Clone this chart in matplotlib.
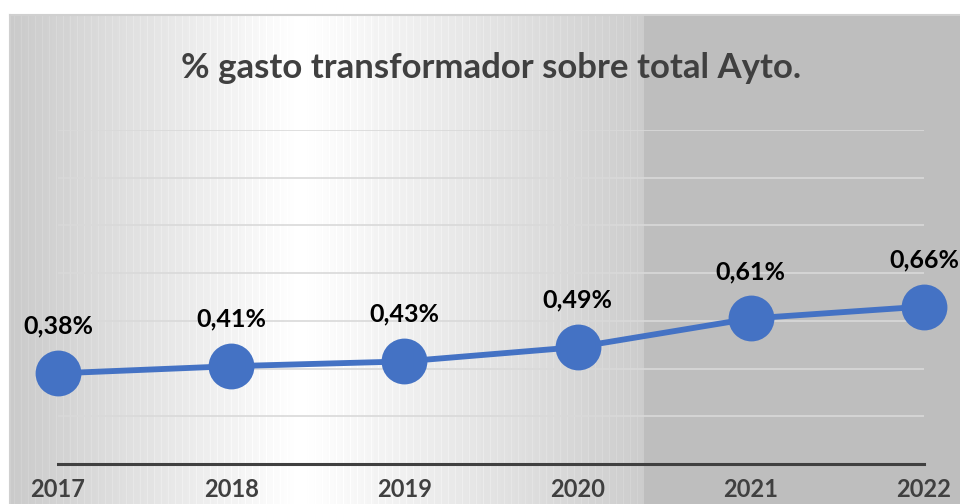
import numpy as np
import matplotlib
matplotlib.use("Agg")
import matplotlib.pyplot as plt

# chart data
years = [2017, 2018, 2019, 2020, 2021, 2022]
share = [0.38, 0.41, 0.43, 0.49, 0.61, 0.66]  # % of total council spending
labels = ["0,38%", "0,41%", "0,43%", "0,49%", "0,61%", "0,66%"]
title = "% gasto transformador sobre total Ayto."

plt.rcParams['font.family'] = ['Lato', 'DejaVu Sans']

W, H, DPI = 960, 504, 100
fig = plt.figure(figsize=(W / DPI, H / DPI), dpi=DPI)
fig.patch.set_facecolor('white')

# background panel with horizontal grey-white-grey gradient
bg = fig.add_axes([10 / W, 0, 1 - 10 / W, (H - 15) / H])
xs = np.arange(10, W)
stops_x = [10, 300, 643, 644, W]
stops_v = [0.79, 1.0, 0.80, 0.745, 0.745]
row = np.interp(xs, stops_x, stops_v)
# faint vertical streak texture on the gradient part
streak = np.where((xs % 7 == 0) & (xs < 643), 0.025, 0.0)
row = np.clip(row + streak, 0, 1)
img = np.tile(row, (2, 1))
bg.imshow(img, cmap='gray', vmin=0, vmax=1, aspect='auto', interpolation='nearest')
bg.set_xticks([])
bg.set_yticks([])
for s in ['right', 'bottom']:
    bg.spines[s].set_visible(False)
for s in ['top', 'left']:
    bg.spines[s].set_color('#d0d0d0')
    bg.spines[s].set_linewidth(1.5)

# plot area
ax = fig.add_axes([58 / W, 40 / H, (924 - 58) / W, (464 - 130) / H])
ax.patch.set_alpha(0)
ax.set_xlim(years[0], years[-1])
ax.set_ylim(0, 1.4)
ax.set_yticks(np.arange(0.2, 1.41, 0.2))
ax.yaxis.grid(True, color='#d9d9d9', linewidth=1.2)
ax.set_axisbelow(True)
ax.tick_params(axis='y', left=False, labelleft=False)
for s in ['top', 'right', 'left']:
    ax.spines[s].set_visible(False)
ax.spines['bottom'].set_color('#404040')
ax.spines['bottom'].set_linewidth(2.2)

ax.set_xticks(years)
ax.set_xticklabels([str(y) for y in years], fontsize=17, fontweight='bold', color='#404040')
ax.tick_params(axis='x', length=0, pad=10)

ax.plot(years, share, color='#4472C4', linewidth=4.2, marker='o', markersize=33,
        markeredgewidth=0, clip_on=False, zorder=3)

for x, y, lab in zip(years, share, labels):
    ax.annotate(lab, (x, y), xytext=(0, 47), textcoords='offset pixels',
                ha='center', va='center', fontsize=18, fontweight='bold', color='black')

fig.text(491 / W, (H - 68) / H, title, ha='center', va='center',
         fontsize=25, fontweight='bold', color='#404040')

fig.savefig('out.png', dpi=DPI)
